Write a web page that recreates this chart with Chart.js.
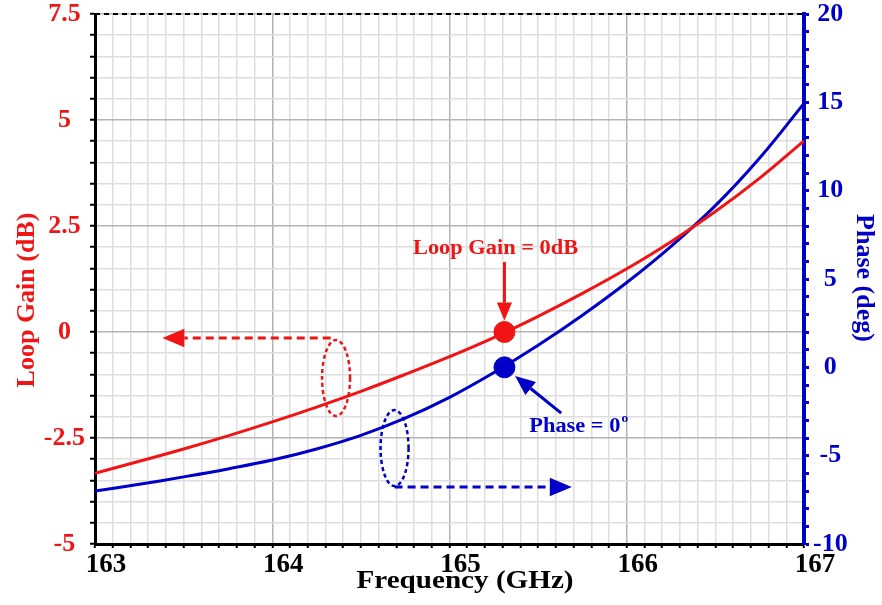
<!DOCTYPE html>
<html>
<head>
<meta charset="utf-8">
<script src="https://cdn.jsdelivr.net/npm/chart.js@4.4.1/dist/chart.umd.min.js"></script>
<style>
  html, body { margin: 0; padding: 0; background: #fff; }
  #wrap { width: 882px; height: 605px; }
</style>
</head>
<body>
<div id="wrap"><canvas id="grafico" width="882" height="605"></canvas></div>
<script>
// datos
const freqGHz = [163, 163.25, 163.5, 163.75, 164, 164.25, 164.5, 164.75, 165,
  165.25, 165.5, 165.75, 166, 166.25, 166.5, 166.75, 167];
const loopGainDb = [-3.33, -3.05, -2.76, -2.45, -2.12, -1.77, -1.40, -1.00, -0.58,
  -0.13, 0.37, 0.91, 1.49, 2.13, 2.84, 3.63, 4.51];
const phaseDeg = [-7.00, -6.62, -6.20, -5.75, -5.25, -4.62, -3.85, -2.88, -1.70,
  -0.30, 1.25, 2.95, 4.80, 6.85, 9.15, 11.85, 14.94];

// puntos marcados (ganancia = 0 dB, fase = 0 grados)
const markerFreq = [165.31];
const markerGain = [0];
const markerPhase = [0];

// etiquetas de los ejes
const freqTickLabels = [163, 164, 165, 166, 167];
const gainTickLabels = [-5, -2.5, 0, 2.5, 5, 7.5];
const phaseTickLabels = [-10, -5, 0, 5, 10, 15, 20];

const RED = '#f01414';
const BLUE = '#0000c8';
const FONT = "'Liberation Serif', 'Times New Roman', serif";

const near = (v, list) => list.find(t => Math.abs(t - v) < 1e-6);
const isMajor = (v, step) => Math.abs(v / step - Math.round(v / step)) < 1e-6;

function arrowLine(ctx, x1, y1, x2, y2, color, head, dash) {
  const ang = Math.atan2(y2 - y1, x2 - x1);
  const bx = x2 - head * Math.cos(ang), by = y2 - head * Math.sin(ang);
  ctx.save();
  ctx.strokeStyle = color;
  ctx.fillStyle = color;
  ctx.lineWidth = 3;
  ctx.setLineDash(dash || []);
  ctx.beginPath();
  ctx.moveTo(x1, y1);
  ctx.lineTo(bx, by);
  ctx.stroke();
  ctx.setLineDash([]);
  const w = head * 0.42;
  ctx.beginPath();
  ctx.moveTo(x2, y2);
  ctx.lineTo(bx + w * Math.sin(ang), by - w * Math.cos(ang));
  ctx.lineTo(bx - w * Math.sin(ang), by + w * Math.cos(ang));
  ctx.closePath();
  ctx.fill();
  ctx.restore();
}

function ovalo(ctx, cx, cy, rx, ry, color) {
  ctx.save();
  ctx.strokeStyle = color;
  ctx.lineWidth = 2.5;
  ctx.setLineDash([4, 3]);
  ctx.beginPath();
  ctx.ellipse(cx, cy, rx, ry, 0, 0, Math.PI * 2);
  ctx.stroke();
  ctx.restore();
}

function texto(ctx, str, x, y, size, color, align, sx) {
  ctx.save();
  ctx.font = 'bold ' + size + 'px ' + FONT;
  ctx.fillStyle = color;
  ctx.textAlign = align;
  ctx.textBaseline = 'middle';
  ctx.translate(x, y);
  ctx.scale(sx || 1, 1);
  ctx.fillText(str, 0, 0);
  const w = ctx.measureText(str).width * (sx || 1);
  ctx.restore();
  return w;
}

// anotaciones: flechas, ovalos, textos y titulos de ejes
const anotaciones = {
  id: 'anotaciones',
  afterDatasetsDraw(chart) {
    const { ctx, chartArea: a, scales: { x, y, y1 } } = chart;

    // borde superior punteado
    ctx.save();
    ctx.strokeStyle = '#000';
    ctx.lineWidth = 2;
    ctx.setLineDash([5, 4]);
    ctx.beginPath();
    ctx.moveTo(a.left, a.top);
    ctx.lineTo(a.right, a.top);
    ctx.stroke();
    ctx.restore();

    // ovalo rojo y flecha hacia el eje izquierdo
    ovalo(ctx, x.getPixelForValue(164.36), y.getPixelForValue(-1.085), 14, 38, RED);
    arrowLine(ctx, x.getPixelForValue(164.33), y.getPixelForValue(-0.14),
      x.getPixelForValue(163.38), y.getPixelForValue(-0.14), RED, 22, [8, 5]);

    // ovalo azul y flecha hacia el eje derecho
    ovalo(ctx, x.getPixelForValue(164.69), y1.getPixelForValue(-4.57), 14, 38, BLUE);
    arrowLine(ctx, x.getPixelForValue(164.69), y1.getPixelForValue(-6.77),
      x.getPixelForValue(165.69), y1.getPixelForValue(-6.77), BLUE, 22, [8, 5]);

    // flecha roja vertical
    arrowLine(ctx, x.getPixelForValue(165.31), y.getPixelForValue(1.65),
      x.getPixelForValue(165.31), y.getPixelForValue(0.27), RED, 18);
    texto(ctx, 'Loop Gain = 0dB', x.getPixelForValue(165.26), y.getPixelForValue(1.96), 20, RED, 'center', 1.12);

    // flecha azul diagonal
    arrowLine(ctx, x.getPixelForValue(165.63), y1.getPixelForValue(-2.59),
      x.getPixelForValue(165.37), y1.getPixelForValue(-0.49), BLUE, 20);
    const px = x.getPixelForValue(165.45), py = y1.getPixelForValue(-3.38);
    const w = texto(ctx, 'Phase = 0', px, py, 20, BLUE, 'left', 1.12);
    texto(ctx, 'o', px + w + 1, py - 8, 12, BLUE, 'left', 1.12);

    // titulos de los ejes
    texto(ctx, 'Frequency (GHz)', 465, 581, 26, '#000', 'center', 1.12);
    ctx.save();
    ctx.translate(27, 300);
    ctx.rotate(-Math.PI / 2);
    texto(ctx, 'Loop Gain (dB)', 0, 0, 26, RED, 'center', 1);
    ctx.restore();
    ctx.save();
    ctx.translate(864, 278);
    ctx.rotate(Math.PI / 2);
    texto(ctx, 'Phase (deg)', 0, 0, 26, BLUE, 'center', 1);
    ctx.restore();
  }
};

const ctx = document.getElementById('grafico').getContext('2d');

new Chart(ctx, {
  type: 'line',
  data: {
    datasets: [
      {
        label: 'Loop Gain',
        data: freqGHz.map((f, i) => ({ x: f, y: loopGainDb[i] })),
        yAxisID: 'y',
        borderColor: RED,
        borderWidth: 3,
        pointRadius: 0,
        tension: 0.4,
        fill: false
      },
      {
        label: 'Phase',
        data: freqGHz.map((f, i) => ({ x: f, y: phaseDeg[i] })),
        yAxisID: 'y1',
        borderColor: BLUE,
        borderWidth: 3,
        pointRadius: 0,
        tension: 0.4,
        fill: false
      },
      {
        label: 'Gain marker',
        data: markerFreq.map((f, i) => ({ x: f, y: markerGain[i] })),
        yAxisID: 'y',
        showLine: false,
        pointRadius: 10.5,
        pointBackgroundColor: RED,
        pointBorderColor: RED
      },
      {
        label: 'Phase marker',
        data: markerFreq.map((f, i) => ({ x: f, y: markerPhase[i] })),
        yAxisID: 'y1',
        showLine: false,
        pointRadius: 10.5,
        pointBackgroundColor: BLUE,
        pointBorderColor: BLUE
      }
    ]
  },
  options: {
    responsive: false,
    animation: false,
    layout: { padding: { top: 14, left: 0, right: 0, bottom: 0 } },
    plugins: { legend: { display: false }, tooltip: { enabled: false } },
    scales: {
      x: {
        type: 'linear',
        min: 163,
        max: 167,
        afterFit: s => { s.height = 61; s.paddingLeft = 0; s.paddingRight = 0; },
        border: { color: '#000', width: 3 },
        grid: {
          color: c => isMajor(c.tick.value, 1) ? '#b4b4b4' : '#dedede',
          lineWidth: 1.5,
          tickColor: '#000',
          tickWidth: 2,
          tickLength: 4
        },
        ticks: {
          stepSize: 0.1,
          autoSkip: false,
          maxRotation: 0,
          padding: 1,
          labelOffset: 11,
          color: '#000',
          font: { family: FONT, size: 27, weight: 'bold' },
          callback: v => { const t = near(v, freqTickLabels); return t === undefined ? '' : String(t); }
        }
      },
      y: {
        position: 'left',
        min: -5,
        max: 7.5,
        afterFit: s => { s.width = 95; s.paddingTop = 0; s.paddingBottom = 0; },
        border: { color: '#000', width: 3 },
        grid: {
          color: c => isMajor(c.tick.value, 2.5) ? '#b4b4b4' : '#dedede',
          lineWidth: 1.5,
          tickColor: '#000',
          tickWidth: 2,
          tickLength: 5
        },
        ticks: {
          stepSize: 0.5,
          autoSkip: false,
          padding: 5,
          crossAlign: 'center',
          color: RED,
          font: { family: FONT, size: 26, weight: 'bold' },
          callback: v => { const t = near(v, gainTickLabels); return t === undefined ? '' : String(t); }
        }
      },
      y1: {
        position: 'right',
        min: -10,
        max: 20,
        afterFit: s => { s.width = 78; s.paddingTop = 0; s.paddingBottom = 0; },
        border: { color: BLUE, width: 4 },
        grid: {
          drawOnChartArea: false,
          tickColor: BLUE,
          tickWidth: 3,
          tickLength: 5
        },
        ticks: {
          stepSize: 1,
          autoSkip: false,
          padding: 4,
          crossAlign: 'center',
          color: BLUE,
          font: { family: FONT, size: 26, weight: 'bold' },
          callback: v => { const t = near(v, phaseTickLabels); return t === undefined ? '' : String(t); }
        }
      }
    }
  },
  plugins: [anotaciones]
});
</script>
</body>
</html>
